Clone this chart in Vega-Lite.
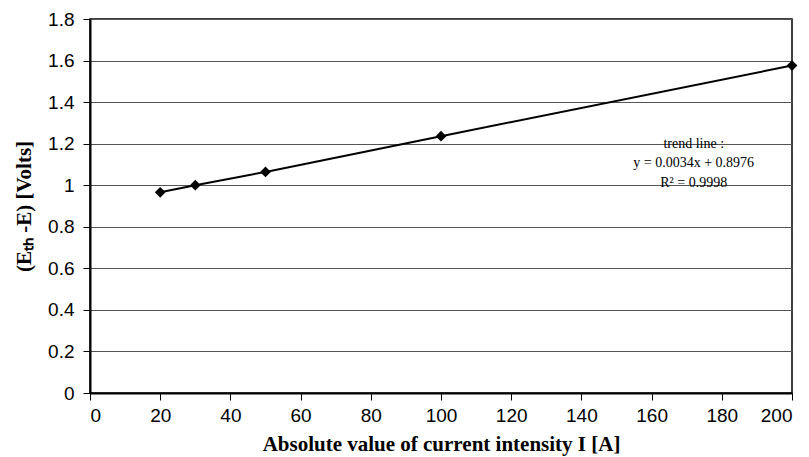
{
  "$schema": "https://vega.github.io/schema/vega-lite/v6.json",
  "width": 702,
  "height": 374,
  "autosize": {"type": "none"},
  "padding": {"left": 90, "top": 19, "right": 17, "bottom": 64},
  "background": "white",
  "config": {
    "view": {"stroke": "black", "strokeWidth": 1.5},
    "axis": {
      "labelFont": "Liberation Sans",
      "labelFontSize": 19,
      "labelColor": "black",
      "titleFont": "Liberation Serif",
      "titleFontWeight": "bold",
      "titleColor": "black",
      "domainColor": "black",
      "domainWidth": 2,
      "tickColor": "black",
      "tickWidth": 1,
      "tickSize": 7
    }
  },
  "datasets": {
    "points": [
      {"current": 20, "voltage": 0.966},
      {"current": 30, "voltage": 1.0},
      {"current": 50, "voltage": 1.064},
      {"current": 100, "voltage": 1.236},
      {"current": 200, "voltage": 1.576}
    ],
    "note": [
      {"current": 172, "voltage": 1.196, "label": "trend line :"},
      {"current": 172, "voltage": 1.108, "label": "y = 0.0034x + 0.8976"},
      {"current": 172, "voltage": 1.012, "label": "R² = 0.9998"}
    ]
  },
  "encoding": {
    "x": {
      "field": "current",
      "type": "quantitative",
      "scale": {"domain": [0, 200], "nice": false},
      "axis": {
        "title": "Absolute value of current intensity I  [A]",
        "titleFontSize": 21,
        "titlePadding": 8,
        "values": [0, 20, 40, 60, 80, 100, 120, 140, 160, 180, 200],
        "grid": false,
        "labelPadding": 6
      }
    },
    "y": {
      "field": "voltage",
      "type": "quantitative",
      "scale": {"domain": [0, 1.8], "nice": false},
      "axis": {
        "title": "(Eₜₕ -E)  [Volts]",
        "titleFontSize": 21,
        "titlePadding": 13,
        "format": "~g",
        "values": [0, 0.2, 0.4, 0.6, 0.8, 1, 1.2, 1.4, 1.6, 1.8],
        "grid": true,
        "gridColor": "#555555",
        "gridWidth": 1,
        "labelPadding": 9
      }
    }
  },
  "layer": [
    {
      "data": {"name": "points"},
      "mark": {"type": "line", "color": "black", "strokeWidth": 2}
    },
    {
      "data": {"name": "points"},
      "mark": {"type": "point", "shape": "diamond", "filled": true, "color": "black", "opacity": 1, "size": 115}
    },
    {
      "data": {"name": "note"},
      "mark": {"type": "text", "font": "Liberation Serif", "fontSize": 14, "color": "black", "align": "center", "baseline": "middle"},
      "encoding": {"text": {"field": "label"}}
    }
  ]
}
